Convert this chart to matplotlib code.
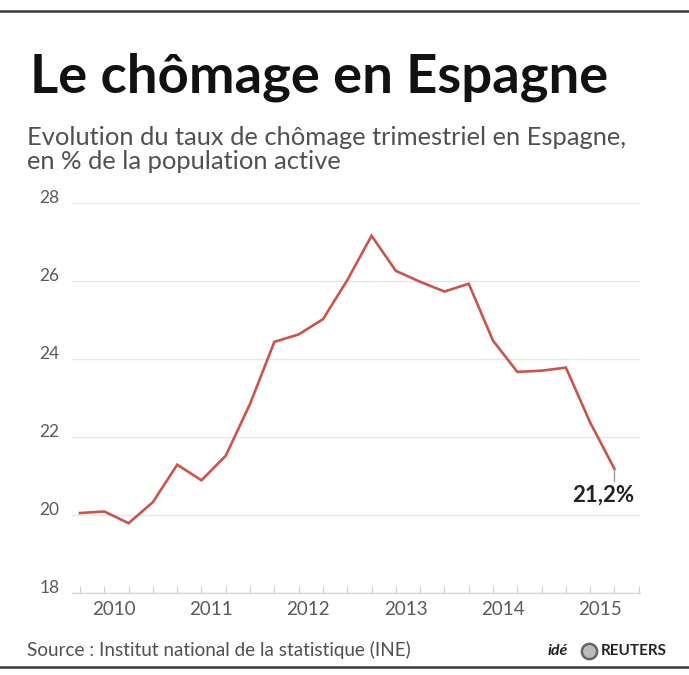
import matplotlib
matplotlib.use("Agg")
import matplotlib.pyplot as plt
from matplotlib.lines import Line2D

# Quarterly unemployment rate, 2010 Q1 .. 2015 Q3
rates = [20.05, 20.09, 19.79, 20.33,
         21.29, 20.89, 21.52, 22.85,
         24.44, 24.63, 25.02, 26.02,
         27.16, 26.26, 25.98, 25.73,
         25.93, 24.47, 23.67, 23.70,
         23.78, 22.37, 21.18]
quarters = list(range(len(rates)))
years = ["2010", "2011", "2012", "2013", "2014", "2015"]
year_pos = [1.4 + 4 * k for k in range(len(years))]
y_ticks = [18, 20, 22, 24, 26, 28]
last_label = "21,2%"

title = "Le chômage en Espagne"
subtitle = ["Evolution du taux de chômage trimestriel en Espagne,",
            "en % de la population active"]
source = "Source : Institut national de la statistique (INE)"

W, H = 689, 675
plt.rcParams["font.family"] = ["Lato", "DejaVu Sans"]

fig = plt.figure(figsize=(W / 100, H / 100), dpi=100)
fig.patch.set_facecolor("white")


def px(x, y):
    return x / W, 1 - y / H


def fit_text(x, y, s, width_px, **kw):
    t = fig.text(*px(x, y), s, **kw)
    r = fig.canvas.get_renderer()
    w = t.get_window_extent(r).width
    t.set_fontsize(t.get_fontsize() * width_px / w)
    return t


# frame lines top and bottom
for yy in (11, 667):
    fig.add_artist(Line2D([0, 1], [1 - yy / H] * 2, color="#3a3a3a", lw=1.8,
                          transform=fig.transFigure))

fit_text(30, 92, title, 577, fontsize=40, fontweight="bold", color="#111111",
         va="baseline")
sub = fit_text(27, 145, subtitle[0], 601, fontsize=15, color="#505050",
               va="baseline")
fig.text(*px(27, 169), subtitle[1], fontsize=sub.get_fontsize(),
         color="#505050", va="baseline")
fit_text(27, 656, source, 381, fontsize=12, color="#505050", va="baseline")

fig.text(*px(548, 655), "idé", fontsize=11.5, fontweight="bold", style="italic",
         color="#222222", va="baseline")
fig.add_artist(Line2D([589 / W], [1 - 651 / H], marker="o", ms=11, mfc="#bbbbbb",
                      mec="#666666", mew=1.8, transform=fig.transFigure))
fig.text(*px(601, 655), "REUTERS", fontsize=11, fontweight="bold",
         color="#222222", va="baseline")

# plot area
ax = fig.add_axes([72 / W, 1 - 593 / H, 568 / W, 390 / H])
ax.plot(quarters, rates, color="#c8564b", lw=1.9, solid_joinstyle="miter",
        zorder=3)
ax.set_xlim(-0.33, 23.05)
ax.set_ylim(18, 28)

ax.set_yticks(y_ticks)
ax.set_yticklabels([str(v) for v in y_ticks])
ax.yaxis.grid(True, color="#e6e6e6", lw=1.0)
ax.tick_params(axis="y", length=0, pad=9, labelsize=12.5, labelcolor="#5a5a5a")
for lab in ax.get_yticklabels():
    lab.set_verticalalignment("baseline")

ax.set_xticks(list(range(len(rates) + 1)))
ax.set_xticklabels([])
ax.set_xticks(year_pos, minor=True)
ax.set_xticklabels(years, minor=True)
ax.tick_params(axis="x", which="major", direction="in", length=5, width=0.8,
               color="#d0d0d0")
ax.tick_params(axis="x", which="minor", length=0, pad=6, labelsize=13.5,
               labelcolor="#5a5a5a")

for s in ("top", "left", "right"):
    ax.spines[s].set_visible(False)
ax.spines["bottom"].set_color("#d8d8d8")
ax.spines["bottom"].set_linewidth(1.0)
ax.set_axisbelow(True)

# last value callout
ax.annotate("", xy=(quarters[-1], rates[-1]), xytext=(0, -9),
            textcoords="offset points",
            arrowprops=dict(arrowstyle="-", color="#999999", lw=1.0,
                            shrinkA=0, shrinkB=0))
ax.annotate(last_label, xy=(quarters[-1], rates[-1]), xytext=(-8, -11),
            textcoords="offset points", ha="center", va="top",
            fontsize=16, fontweight="bold", color="#222222")

fig.savefig("out.png", dpi=100)
